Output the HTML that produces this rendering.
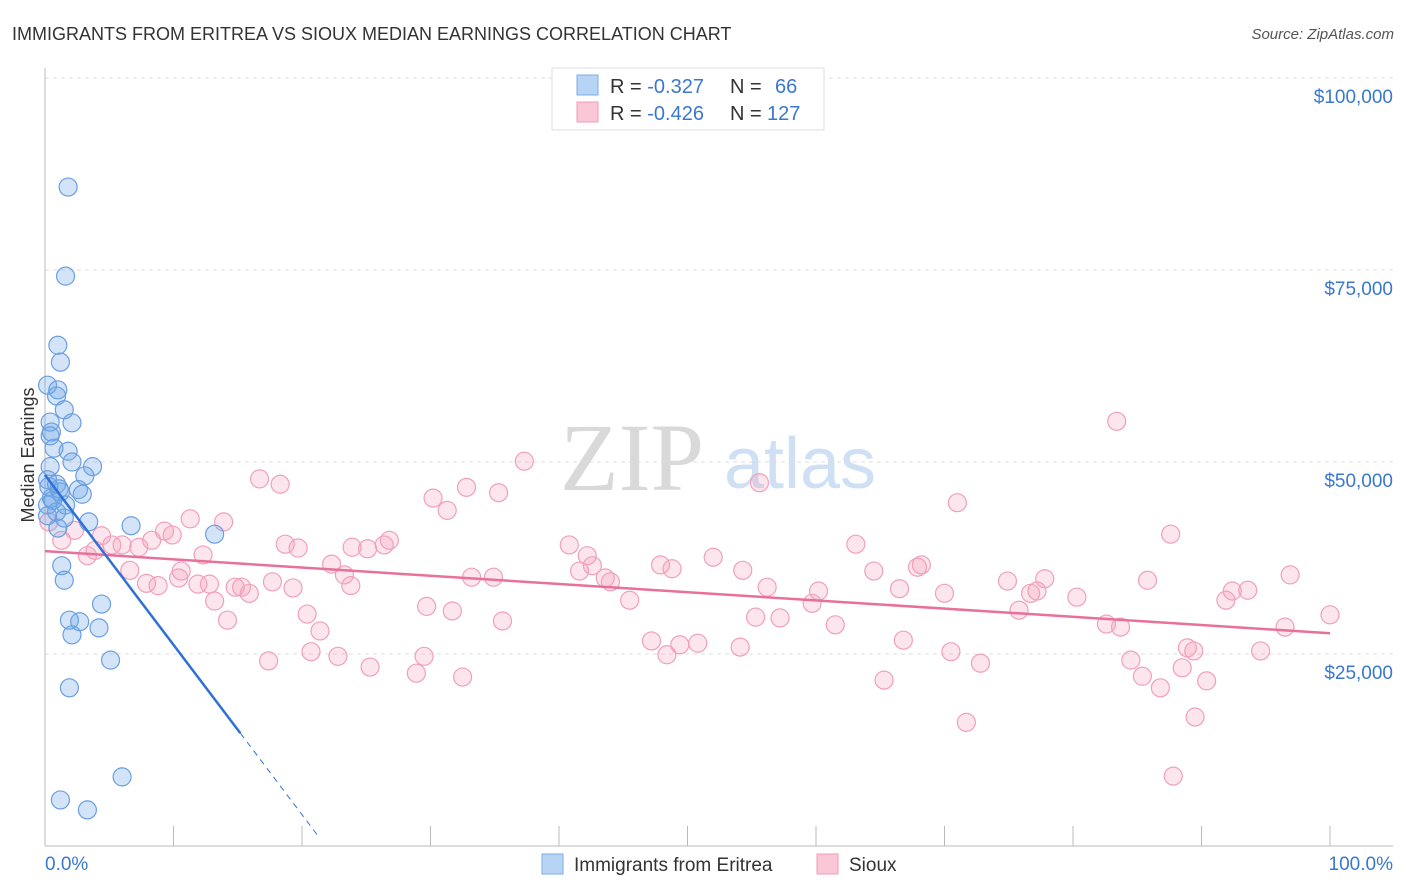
<!DOCTYPE html>
<html><head><meta charset="utf-8"><style>
body{margin:0;background:#fff;font-family:"Liberation Sans",sans-serif}
svg{display:block}
</style></head><body>
<svg id="chart" width="1406" height="892" xmlns="http://www.w3.org/2000/svg">
<text x="12" y="40" font-size="18" fill="#333">IMMIGRANTS FROM ERITREA VS SIOUX MEDIAN EARNINGS CORRELATION CHART</text>
<text x="1394" y="39" font-size="15" fill="#555" font-style="italic" text-anchor="end">Source: ZipAtlas.com</text>
<g>
<text x="632" y="490" font-size="96" font-family="Liberation Serif,serif" fill="#d9d9d9" text-anchor="middle">ZIP</text>
<text x="800" y="488" font-size="72" fill="#cfe0f4" text-anchor="middle">atlas</text>
</g>
<g id="grid"></g>
<g id="axes"></g>
<g id="pink"></g>
<g id="blue"></g>
<g id="lines"></g>
<text transform="translate(34,455) rotate(-90)" font-size="18" fill="#333" text-anchor="middle">Median Earnings</text>
<g>
<rect x="552" y="68" width="272" height="62" fill="#fff" stroke="#ddd"/>
<rect x="577" y="75" width="21" height="20" fill="#b8d4f5" stroke="#7aaee8"/>
<rect x="577" y="102" width="21" height="20" fill="#fbc7d6" stroke="#f19bb6"/>
<text x="610" y="93" font-size="20" fill="#333">R = <tspan fill="#3a78d0">-0.327</tspan><tspan x="730">N =</tspan><tspan x="775" fill="#3a78d0">66</tspan></text>
<text x="610" y="120" font-size="20" fill="#333">R = <tspan fill="#3a78d0">-0.426</tspan><tspan x="730">N =</tspan><tspan x="767" fill="#3a78d0">127</tspan></text>
</g>
<g>
<rect x="542" y="854" width="21" height="20" fill="#b8d4f5" stroke="#7aaee8"/>
<text x="574" y="871" font-size="19" fill="#333">Immigrants from Eritrea</text>
<rect x="817" y="854" width="21" height="20" fill="#fbc7d6" stroke="#f19bb6"/>
<text x="849" y="871" font-size="19" fill="#333">Sioux</text>
</g>
</svg>
<script>
const blueX=[1.8,1.6,1.0,1.2,0.2,1.0,0.9,1.5,2.1,0.4,0.5,0.4,0.7,1.8,2.1,3.7,0.4,3.1,0.2,0.9,2.6,2.9,1.2,0.5,0.2,1.6,0.9,1.5,3.4,6.7,1.0,13.2,1.3,1.5,4.4,1.9,2.7,4.2,2.1,5.1,1.9,6.0,1.2,3.3,0.3,0.6,0.2,1.1];
const blueY=[85.8,74.2,65.2,63.0,60.0,59.4,58.6,56.8,55.1,55.2,53.9,53.4,51.8,51.4,50.0,49.4,49.4,48.2,47.7,47.1,46.4,45.8,46.1,45.3,44.4,44.4,43.5,42.7,42.2,41.7,41.4,40.6,36.5,34.6,31.5,29.4,29.2,28.4,27.5,24.2,20.6,9.0,6.0,4.7,46.8,45.0,43.0,46.5];
const pinkX=[0.3,1.3,2.3,3.3,3.9,4.4,5.2,6.0,6.6,7.3,7.9,8.3,8.8,9.3,9.9,10.4,10.6,11.3,11.9,12.3,12.8,13.2,13.9,14.2,14.8,15.3,15.9,16.7,17.4,17.7,18.3,18.7,19.3,19.7,20.4,20.7,21.4,22.3,22.8,23.3,23.8,23.9,25.1,25.3,26.4,26.8,28.9,29.5,29.7,30.2,31.3,31.7,32.5,32.8,33.2,34.9,35.3,35.6,37.3,40.8,41.6,42.2,42.6,43.6,44.0,45.5,47.2,47.9,48.4,48.8,49.4,50.8,52.0,54.1,54.3,55.3,55.6,56.2,57.2,59.7,60.2,61.5,63.1,64.5,65.3,66.5,66.8,67.9,68.2,70.0,70.5,71.0,71.7,72.8,74.9,75.8,76.7,77.2,77.8,80.3,82.6,83.4,83.7,84.5,85.4,85.8,86.8,87.6,87.8,88.5,88.9,89.4,89.5,90.4,91.9,92.4,93.6,94.6,96.5,96.9,100.0];
const pinkY=[42.2,39.8,41.1,37.8,38.5,40.4,39.2,39.2,35.9,38.9,34.2,39.8,33.9,41.0,40.5,34.9,35.8,42.6,34.1,37.9,34.1,31.9,42.2,29.4,33.7,33.7,32.9,47.8,24.1,34.4,47.1,39.3,33.6,38.8,30.2,25.3,28.0,36.7,24.7,35.3,33.9,38.9,38.7,23.3,39.2,39.8,22.5,24.7,31.2,45.3,43.7,30.6,22.0,46.7,35.0,35.0,46.0,29.3,50.1,39.2,35.8,37.8,36.5,34.9,34.4,32.0,26.7,36.6,24.9,36.1,26.2,26.4,37.6,25.9,35.9,29.8,47.3,33.7,29.7,31.6,33.2,28.8,39.3,35.8,21.6,33.5,26.8,36.3,36.6,32.9,25.3,44.7,16.1,23.8,34.5,30.7,32.9,33.2,34.8,32.4,28.9,55.3,28.5,24.2,22.1,34.6,20.6,40.6,9.1,23.2,25.8,25.4,16.8,21.5,32.0,33.2,33.3,25.4,28.5,35.3,30.1];
const yTicks=[25,50,75,100];
const yTickLabels=["$25,000","$50,000","$75,000","$100,000"];
const blueTrend=[[0,48.3],[15.2,14.7],[21.3,1.2]];
const pinkTrend=[[0,38.4],[100,27.7]];
const NS="http://www.w3.org/2000/svg";
const X=v=>45+v*12.85, Y=v=>846-v*192/25;
function mk(t,a,p){const e=document.createElementNS(NS,t);for(const k in a)e.setAttribute(k,a[k]);document.getElementById(p).appendChild(e);return e;}
yTicks.forEach((t,i)=>{
 const g=mk('line',{x1:45,x2:1393,y1:Y(t),y2:Y(t),stroke:'#ddd','stroke-dasharray':'4,4'},'grid');
 
 
 const l=mk('text',{x:1393,y:Y(t)+25,'font-size':19,fill:'#3a78d0','text-anchor':'end'},'axes');
 l.textContent=yTickLabels[i];
 
 
});
const ax=mk('line',{x1:45,x2:45,y1:68,y2:846,stroke:'#bbb'},'axes');


const bx=mk('line',{x1:45,x2:1393,y1:846,y2:846,stroke:'#bbb'},'axes');


for(let i=1;i<=10;i++){
 const t=mk('line',{x1:X(i*10),x2:X(i*10),y1:826,y2:846,stroke:'#bbb'},'axes');
 
 
}
const x0=mk('text',{x:45,y:870,'font-size':19,fill:'#3a78d0'},'axes');x0.textContent='0.0%';


const x1=mk('text',{x:1393,y:870,'font-size':19,fill:'#3a78d0','text-anchor':'end'},'axes');x1.textContent='100.0%';


pinkX.forEach((v,i)=>{
 const c=mk('circle',{cx:X(v),cy:Y(pinkY[i]),r:9,fill:'rgba(243,160,188,0.28)',stroke:'#f0a0ba','stroke-width':1.2},'pink');
 
 
});
blueX.forEach((v,i)=>{
 const c=mk('circle',{cx:X(v),cy:Y(blueY[i]),r:9,fill:'rgba(110,165,232,0.3)',stroke:'#6a9fe0','stroke-width':1.2},'blue');
 
 
});
const pl=mk('line',{x1:X(pinkTrend[0][0]),y1:Y(pinkTrend[0][1]),x2:X(pinkTrend[1][0]),y2:Y(pinkTrend[1][1]),stroke:'#e8709a','stroke-width':2.5},'lines');


const bl=mk('line',{x1:X(blueTrend[0][0]),y1:Y(blueTrend[0][1]),x2:X(blueTrend[1][0]),y2:Y(blueTrend[1][1]),stroke:'#2f70d8','stroke-width':2.5},'lines');


const bd=mk('line',{x1:X(blueTrend[1][0]),y1:Y(blueTrend[1][1]),x2:X(blueTrend[2][0]),y2:Y(blueTrend[2][1]),stroke:'#2f70d8','stroke-width':1,'stroke-dasharray':'6,5'},'lines');


</script>
</body></html>
